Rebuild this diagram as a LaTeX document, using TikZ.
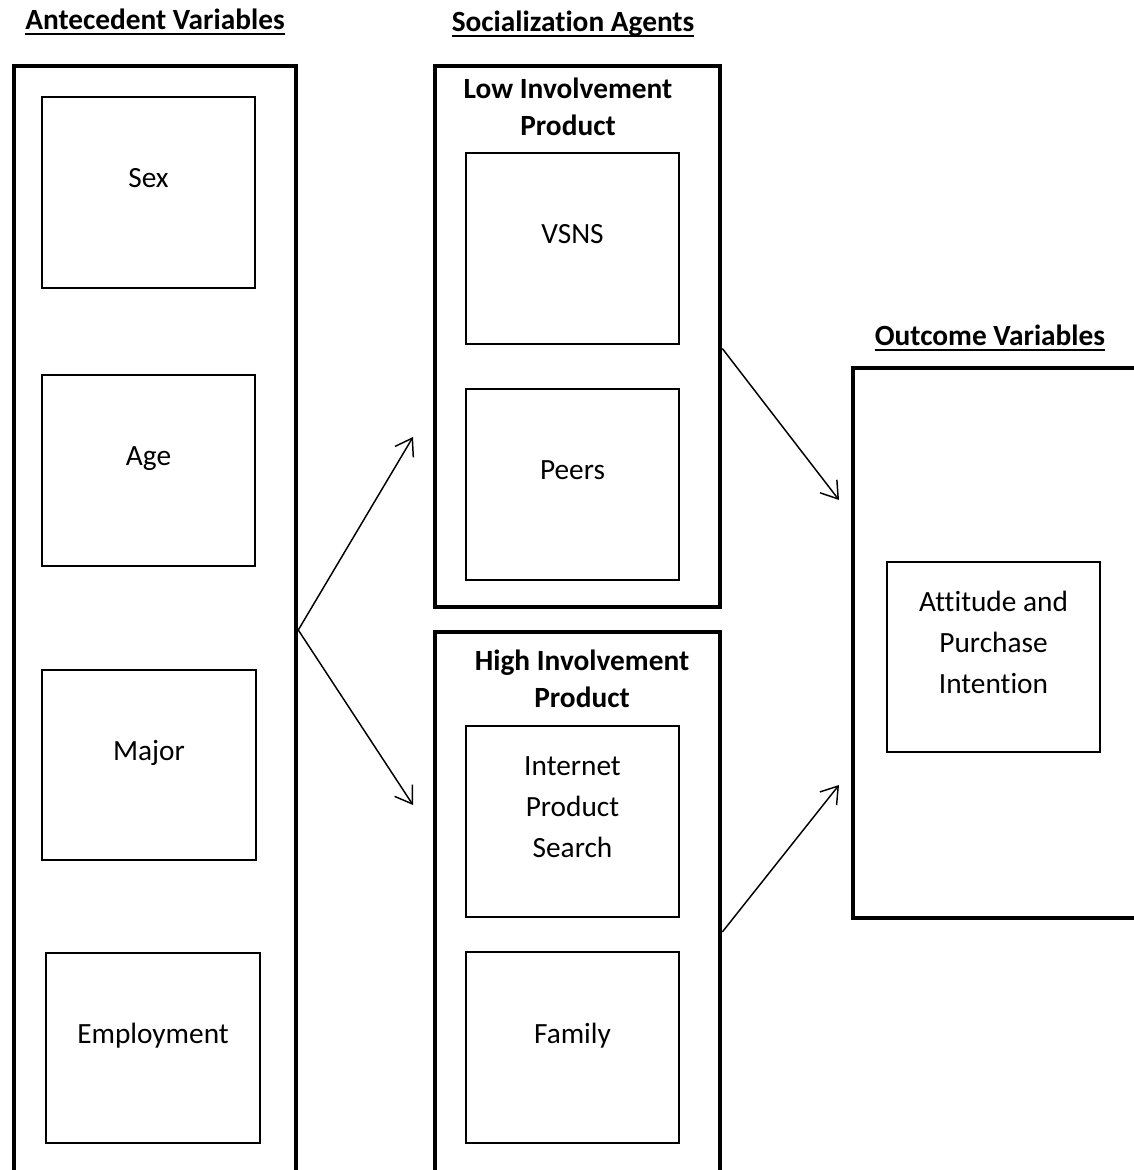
\documentclass[tikz,border=0pt]{standalone}
\usepackage{fontspec}
\setmainfont{Carlito}[Ligatures=NoCommon]
\usetikzlibrary{arrows.meta}

\newcommand\ulbox[1]{\setbox0\hbox{#1}\rlap{\rule[-1.8pt]{\wd0}{0.75pt}}\box0}

\begin{document}
\begin{tikzpicture}[x=0.375pt,
            y=-0.375pt,
            >={Straight Barb[length=6pt,width=8pt]},
            frame/.style={draw, line width=1.7pt, inner sep=0pt},
            box/.style={draw, line width=0.75pt, minimum width=79.9pt,
                        minimum height=71.6pt, align=center, text depth=11pt,
                        font=\fontsize{11}{15.4}\selectfont},
            head/.style={align=center, inner sep=0pt,
                         font=\fontsize{11}{13.9}\selectfont\bfseries},
            link/.style={->, line width=0.55pt}]

        \useasboundingbox (0,0) rectangle (1134,1170);
        \clip (0,0) rectangle (1134,1170);

        % column titles
        \node[head] (antT) at (155,22)  {\ulbox{Antecedent Variables}};
        \node[head] (socT) at (573,24)  {\ulbox{Socialization Agents}};
        \node[head] (outT) at (990,338) {\ulbox{Outcome Variables}};

        % frames
        \node[frame, minimum width=105.75pt, minimum height=423pt]   (ante) at (155,630)    {};
        \node[frame, minimum width=106.9pt,  minimum height=202.9pt] (low)  at (577.5,336.5) {};
        \node[frame, minimum width=106.9pt,  minimum height=225pt]   (high) at (577.5,932)   {};
        \node[frame, minimum width=111.4pt,  minimum height=206.25pt] (outc) at (1001.5,643) {};

        \node[head] (lowT)  at (568,107) {Low Involvement\\Product};
        \node[head] (highT) at (582,679) {High Involvement\\Product};

        % antecedent variables
        \node[box] (sex)  at (148.5,192.5) {Sex};
        \node[box] (age)  at (148.5,470.5) {Age};
        \node[box] (maj)  at (149,765)     {Major};
        \node[box] (emp)  at (153,1048)    {Employment};

        % socialization agents
        \node[box] (vsns) at (572.5,248.5)  {VSNS};
        \node[box] (peer) at (572.5,484.5)  {Peers};
        \node[box] (ips)  at (572.5,821.5)  {Internet\\Product\\Search};
        \node[box] (fam)  at (572.5,1047.5) {Family};

        % outcome
        \node[box] (api)  at (993.5,657) {Attitude and\\Purchase\\Intention};

        \coordinate (toLow)  at (413,437);
        \coordinate (toHigh) at (413,805);
        \coordinate (toOut1) at (839,500);
        \coordinate (toOut2) at (839,785);

        \draw[link] (ante.east) -- (toLow);
        \draw[link] (ante.east) -- (toHigh);
        \draw[link] ([yshift=-4.5pt]low.east) -- (toOut1);
        \draw[link] (high.east) -- (toOut2);

    \end{tikzpicture}
\end{document}
